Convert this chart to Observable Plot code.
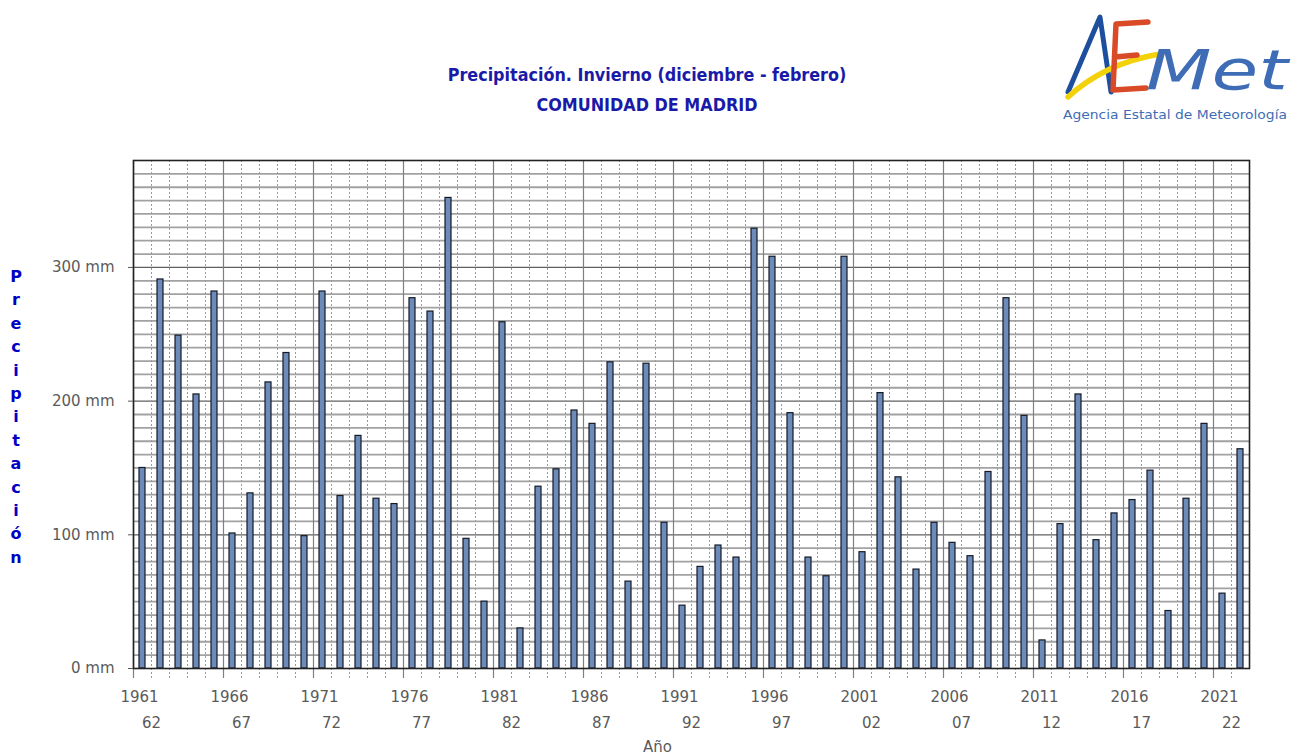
<!DOCTYPE html>
<html>
<head>
<meta charset="utf-8">
<script src="https://cdn.jsdelivr.net/npm/d3@7"></script>
<script src="https://cdn.jsdelivr.net/npm/@observablehq/plot@0.6"></script>
<style>
  html, body { margin: 0; padding: 0; background: #fff; }
  #wrap { position: relative; width: 1301px; height: 756px; overflow: hidden; font-family: "DejaVu Sans", Verdana, sans-serif; }
  #wrap > svg.plot { position: absolute; left: 0; top: 0; }
  .title { position: absolute; left: 0; width: 1294px; text-align: center; color: #1a1aa8; font-weight: bold; font-family: "DejaVu Sans Condensed", "DejaVu Sans", sans-serif; }
  #ylab { position: absolute; left: 6px; top: 265px; width: 20px; text-align: center; color: #0000c4; font-weight: bold; font-size: 16px; line-height: 23.4px; font-family: "DejaVu Sans", sans-serif; }
  #logo { position: absolute; left: 0; top: 0; }
</style>
</head>
<body>
<div id="wrap">
  <div class="title" style="top:64px;font-size:17.8px;">Precipitación. Invierno (diciembre - febrero)</div>
  <div class="title" style="top:94px;font-size:17.8px;">COMUNIDAD DE MADRID</div>
  <div id="ylab"></div>
  <svg id="logo" width="1301" height="130" viewBox="0 0 1301 130">
    <path d="M1068 92 L1100 17 L1111 92" fill="none" stroke="#1d4f9e" stroke-width="5" stroke-linecap="round" stroke-linejoin="round"/>
    <path d="M1068 97 Q1105 63 1160 54" fill="none" stroke="#f4d20a" stroke-width="5.5" stroke-linecap="round"/>
    <path d="M1148 22 L1116 24 L1113 90 L1146 88 M1115 57 L1137 55" fill="none" stroke="#d94a26" stroke-width="5.5" stroke-linecap="round" stroke-linejoin="round"/>
    <text x="1146" y="89" font-family="DejaVu Sans" font-style="italic" font-size="56" fill="#3f6db5" textLength="142" lengthAdjust="spacingAndGlyphs">Met</text>
    <text x="1063" y="119" font-family="DejaVu Sans Condensed, DejaVu Sans" font-size="12.5" fill="#3f6db5" textLength="224" lengthAdjust="spacingAndGlyphs">Agencia Estatal de Meteorología</text>
  </svg>
</div>
<script>
// Winter seasons (start year: Dec of that year to Feb of next)
const winters = [1961,1962,1963,1964,1965,1966,1967,1968,1969,1970,
  1971,1972,1973,1974,1975,1976,1977,1978,1979,1980,
  1981,1982,1983,1984,1985,1986,1987,1988,1989,1990,
  1991,1992,1993,1994,1995,1996,1997,1998,1999,2000,
  2001,2002,2003,2004,2005,2006,2007,2008,2009,2010,
  2011,2012,2013,2014,2015,2016,2017,2018,2019,2020,
  2021,2022];
// Precipitation (mm)
const precip = [150,291,249,205,282,101,131,214,236,99,
  282,129,174,127,123,277,267,352,97,50,
  259,30,136,149,193,183,229,65,228,109,
  47,76,92,83,329,308,191,83,69,308,
  87,206,143,74,109,94,84,147,277,189,
  21,108,205,96,116,126,148,43,127,183,
  56,164];
const labelYears = [1961,1966,1971,1976,1981,1986,1991,1996,2001,2006,2011,2016,2021];
const labelSuffix = ["62","67","72","77","82","87","92","97","02","07","12","17","22"];
const yTicks = [0,100,200,300];
const yLabel = "Precipitación";
const xLabel = "Año";

const data = winters.map((w, i) => ({year: w, value: precip[i]}));
const lastEdge = winters[winters.length - 1] + 1;
const minorX = d3.range(winters[0] + 1, lastEdge).filter(y => !labelYears.includes(y));
const minorY = d3.range(10, 380, 10).filter(v => v % 100 !== 0);

const chart = Plot.plot({
  width: 1301,
  height: 756,
  marginLeft: 133,
  marginRight: 52,
  marginTop: 160,
  marginBottom: 88,
  style: {background: "transparent", fontFamily: "DejaVu Sans, Verdana, sans-serif"},
  x: {domain: [winters[0], lastEdge], axis: null},
  y: {domain: [0, 380], axis: null},
  marks: [
    Plot.ruleY(minorY, {stroke: "#a2a2a2", strokeWidth: 1.8}),
    Plot.ruleY(yTicks.slice(1), {stroke: "#606060", strokeWidth: 1.3}),
    Plot.ruleX(minorX, {stroke: "#9a9a9a", strokeWidth: 1, strokeDasharray: "2,2", insetBottom: -10}),
    Plot.ruleX(labelYears, {stroke: "#808080", strokeWidth: 1.2, insetBottom: -10}),
    Plot.rectY(data, {x1: "year", x2: d => d.year + 1, y: "value", insetLeft: 6, insetRight: 6, fill: "#6d8bb8", stroke: "#141a26", strokeWidth: 1.2}),
    Plot.frame({stroke: "#222", strokeWidth: 1.6}),
    Plot.axisY({ticks: yTicks, tickFormat: d => `${d} mm`, tickSize: 5, tickPadding: 14, fontSize: 15, color: "#5a5a5a", label: null}),
    Plot.text(labelYears, {x: d => d + 0.5, dx: -3, frameAnchor: "bottom", lineAnchor: "middle", dy: 29, text: d => String(d), fontSize: 15, fill: "#5a5a5a"}),
    Plot.text(labelYears, {x: d => d + 1, frameAnchor: "bottom", lineAnchor: "middle", dy: 55, text: (d, i) => labelSuffix[i], fontSize: 15, fill: "#5a5a5a"}),
    Plot.text([xLabel], {frameAnchor: "bottom", x: () => (winters[0] + lastEdge) / 2, dx: -34, dy: 79, lineAnchor: "middle", text: d => d, fontSize: 15, fill: "#5a5a5a"})
  ]
});
chart.classList.add("plot");
const wrap = document.getElementById("wrap");
wrap.insertBefore(chart, wrap.firstChild);

document.getElementById("ylab").innerHTML = yLabel.split("").map(c => `<div>${c}</div>`).join("");
</script>
</body>
</html>
